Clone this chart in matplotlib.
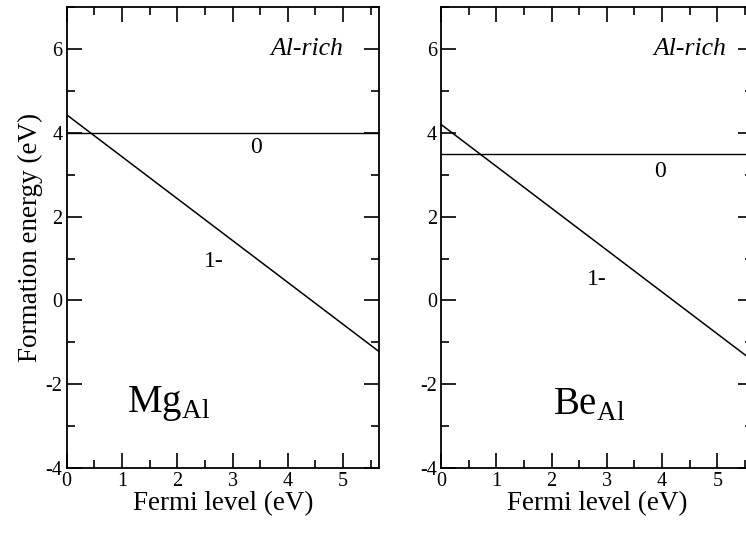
import matplotlib.pyplot as plt
from matplotlib.ticker import MultipleLocator

plt.rcParams['font.family'] = ['Liberation Serif', 'DejaVu Serif']
plt.rcParams['mathtext.fontset'] = 'custom'
plt.rcParams['mathtext.rm'] = 'Liberation Serif'
plt.rcParams['axes.unicode_minus'] = False

# Fermi level range (eV)
fermi = [0.0, 5.65]

# Mg on Al site, Al-rich conditions
mg_neutral = [4.0, 4.0]
mg_minus = [4.43, -1.22]

# Be on Al site, Al-rich conditions
be_neutral = [3.5, 3.5]
be_minus = [4.2, -1.45]

panels = [
    dict(pos=[0.0894, 0.146, 0.4186, 0.841], neutral=mg_neutral, minus=mg_minus,
         name='Mg', lab0=(3.43, 3.64), lab1=(2.67, 0.93), rich=(4.35, 6.0),
         species=(1.1, -2.45), ylabel=True),
    dict(pos=[0.5912, 0.146, 0.4186, 0.841], neutral=be_neutral, minus=be_minus,
         name='Be', lab0=(3.96, 3.08), lab1=(2.82, 0.49), rich=(4.5, 6.0),
         species=(2.02, -2.5), ylabel=False),
]

fig = plt.figure(figsize=(7.46, 5.48), dpi=100)

for p in panels:
    ax = fig.add_axes(p['pos'])
    ax.plot(fermi, p['neutral'], color='black', lw=1.0)
    ax.plot(fermi, p['minus'], color='black', lw=1.1)

    ax.set_xlim(0, 5.65)
    ax.set_ylim(-4, 7)
    ax.xaxis.set_major_locator(MultipleLocator(1))
    ax.xaxis.set_minor_locator(MultipleLocator(0.5))
    ax.yaxis.set_minor_locator(MultipleLocator(1))
    ax.set_yticks([-4, -2, 0, 2, 4, 6])
    ax.tick_params(which='both', direction='in', top=True, right=True,
                   labelsize=14.5, width=1.2, pad=3)
    ax.tick_params(which='major', length=10.5)
    ax.tick_params(which='minor', length=6)
    for s in ax.spines.values():
        s.set_linewidth(1.3)

    ax.set_xlabel('Fermi level (eV)', fontsize=19.5, labelpad=0)
    if p['ylabel']:
        ax.set_ylabel('Formation energy (eV)', fontsize=19.5, labelpad=2)

    ax.text(*p['lab0'], '0', fontsize=17, ha='center', va='center')
    ax.text(*p['lab1'], '1-', fontsize=17, ha='center', va='center')
    ax.text(*p['rich'], 'Al-rich', fontsize=18.5, style='italic',
            ha='center', va='center')
    ax.text(*p['species'], p['name'] + r'$_{\mathrm{Al}}$', fontsize=28,
            ha='left', va='center')

fig.savefig('out.png', dpi=100)
